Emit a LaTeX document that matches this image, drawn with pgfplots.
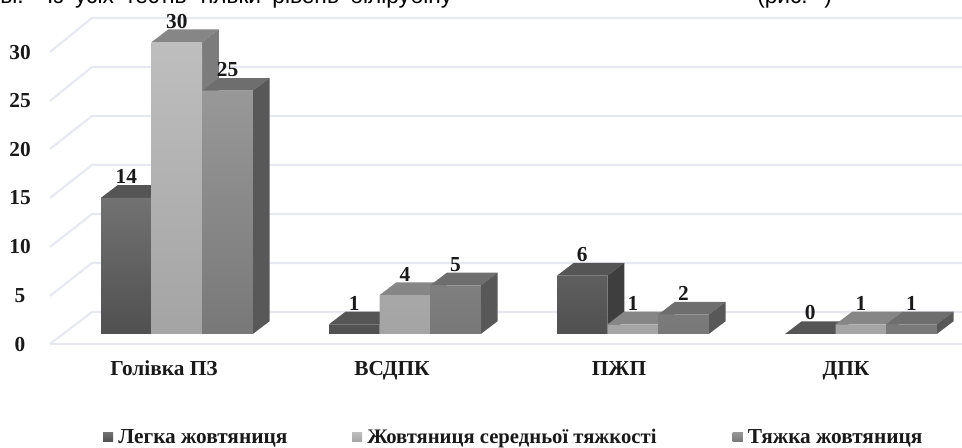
\documentclass[border=0pt]{standalone}
\usepackage{fontspec}
\usepackage{pgfplots}
\usepackage{pgfplotstable}
\pgfplotsset{compat=1.18}
\setmainfont{Liberation Serif}
\newfontfamily\sansf{Liberation Sans}
\definecolor{gridc}{HTML}{E6E9F0}
\definecolor{aT}{HTML}{727272}\definecolor{aB}{HTML}{505050}\definecolor{aTop}{HTML}{555555}\definecolor{aSide}{HTML}{3E3E3E}
\definecolor{bT}{HTML}{BEBEBE}\definecolor{bB}{HTML}{A4A4A4}\definecolor{bTop}{HTML}{868686}\definecolor{bSide}{HTML}{7C7C7C}
\definecolor{cT}{HTML}{989898}\definecolor{cB}{HTML}{787878}\definecolor{cTop}{HTML}{6E6E6E}\definecolor{cSide}{HTML}{585858}
\pgfplotstableread{
xa a xb b xc c
126.3 14 176.9 30 227.5 25
354.3 1 404.9 4 455.5 5
582.3 6 632.9 1 683.5 2
810.3 0 860.9 1 911.5 1
}\cases
\newcommand\grid[2]{\addplot[forget plot,gridc,line width=1.6pt] coordinates {(50,#1)(92,#2)(962,#2)};}
\newcommand\tops[4]{%
\pgfmathsetmacro\xa{#1}\pgfmathsetmacro\xb{#1+50.6}\pgfmathsetmacro\xc{#1+67.3}\pgfmathsetmacro\xd{#1+16.7}\pgfmathsetmacro\vt{#2+1.305}\pgfmathsetmacro\vb{#2}%
\addplot[forget plot,fill=#3,draw=none] coordinates {(\xa,\vb)(\xb,\vb)(\xc,\vt)(\xd,\vt)};
\addplot[forget plot,fill=#4,draw=none] coordinates {(\xb,0)(\xc,1.305)(\xc,\vt)(\xb,\vb)};
}
\pgfplotsset{front/.style={ybar,bar width=50.6,bar shift=0pt,draw=none,
  nodes near coords,nodes near coords style={anchor=center,yshift=15.75pt,font=\bfseries\fontsize{16pt}{17pt}\selectfont,text=black!90}}}
\begin{document}
\begin{tikzpicture}
\begin{axis}[name=a,scale only axis,width=721.5pt,height=336pt,
  /pgf/number format/assume math mode=true,
  xmin=0,xmax=962,ymin=-11.716,ymax=34.327,clip=false,
  axis line style={draw=none},tick style={draw=none},
  ytick={-1.03,3.91,8.94,13.98,19.01,23.95,28.98},yticklabels={0,5,10,15,20,25,30},
  yticklabel style={anchor=center,xshift=15pt,font=\bfseries\fontsize{16pt}{17pt}\selectfont,text=black!90},
  xtick={164,392,619,846},xticklabels={Голівка ПЗ,ВСДПК,ПЖП,ДПК},
  xticklabel style={anchor=base,yshift=54pt,font=\bfseries\fontsize{16pt}{17pt}\selectfont,text=black!90},
  legend columns=3,
  legend style={at={(axis cs:103,-10.59)},anchor=west,draw=none,fill=none,inner sep=0pt,outer sep=0pt,
    font=\bfseries\fontsize{16pt}{17pt}\selectfont,text=black!90,
    /tikz/column 1/.style={column sep=2pt},/tikz/column 3/.style={column sep=2pt},/tikz/column 5/.style={column sep=2pt},
    /tikz/column 2/.style={column sep=46.5pt},/tikz/column 4/.style={column sep=55pt}},
]
\grid{-1.03}{2.26}
\grid{3.91}{7.30}
\grid{8.94}{12.33}
\grid{13.98}{17.37}
\grid{19.01}{22.41}
\grid{23.95}{27.44}
\grid{28.98}{32.48}
\addplot[forget plot,gridc,line width=1.6pt] coordinates {(50,-1.03)(962,-1.03)};
% series 1
\tops{101}{14}{aTop}{aSide}\tops{329}{1}{aTop}{aSide}\tops{557}{6}{aTop}{aSide}\tops{785}{0}{aTop}{aSide}
% series 2
\tops{151.6}{30}{bTop}{bSide}\tops{379.6}{4}{bTop}{bSide}\tops{607.6}{1}{bTop}{bSide}\tops{835.6}{1}{bTop}{bSide}
% series 3
\tops{202.2}{25}{cTop}{cSide}\tops{430.2}{5}{cTop}{cSide}\tops{658.2}{2}{cTop}{cSide}\tops{886.2}{1}{cTop}{cSide}
\addplot[front,top color=aT,bottom color=aB,
  legend image code/.code={\fill[aB!85!aT] (0pt,-3.7pt) rectangle (7.5pt,3.7pt);}] table[x=xa,y=a] {\cases};
\addlegendentry{Легка жовтяниця}
\addplot[front,top color=bT,bottom color=bB,
  legend image code/.code={\fill[bB] (0pt,-3.7pt) rectangle (7.5pt,3.7pt);}] table[x=xb,y=b] {\cases};
\addlegendentry{\fontsize{15.5pt}{17pt}\selectfont Жовтяниця середньої тяжкості}
\addplot[front,top color=cT,bottom color=cB,
  legend image code/.code={\fill[cB] (0pt,-3.7pt) rectangle (7.5pt,3.7pt);}] table[x=xc,y=c] {\cases};
\addlegendentry{Тяжка жовтяниця}
\node[anchor=base west,inner sep=0pt,font=\sansf\fontsize{17pt}{19pt}\selectfont] at (axis cs:0,33.99) {\makebox[339pt][s]{ві. Із усіх тестів тільки рівень білірубіну}};
\node[anchor=base west,inner sep=0pt,font=\sansf\fontsize{17pt}{19pt}\selectfont] at (axis cs:757,33.99) {\makebox[56pt][s]{(рис. )}};
\end{axis}
\pgfresetboundingbox
\path[use as bounding box] (a.south west) rectangle (a.north east);
\end{tikzpicture}
\end{document}
